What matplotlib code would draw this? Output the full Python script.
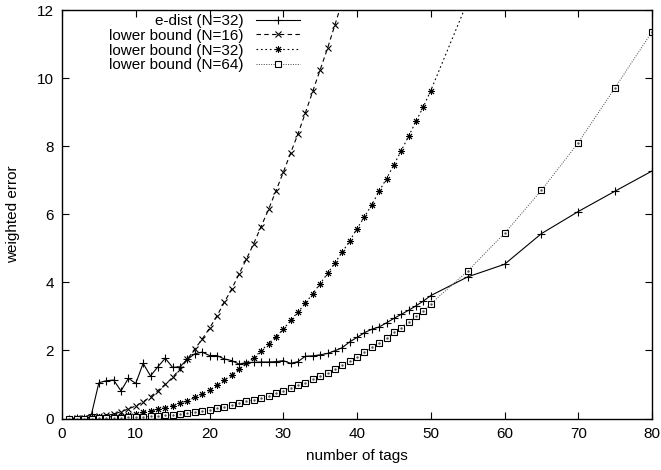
import matplotlib
matplotlib.use('Agg')
import matplotlib.pyplot as plt

plt.rcParams['font.family'] = ['Liberation Sans', 'DejaVu Sans']

#data
x_edist = list(range(1, 51)) + [55, 60, 65, 70, 75, 80]
y_edist = [0.0, 0.01, 0.02, 0.13, 1.05, 1.11, 1.13, 0.81, 1.18, 1.03,
           1.62, 1.25, 1.52, 1.77, 1.50, 1.52, 1.74, 1.90, 1.95, 1.85,
           1.85, 1.75, 1.70, 1.60, 1.64, 1.65, 1.66, 1.66, 1.67, 1.70,
           1.62, 1.67, 1.83, 1.84, 1.87, 1.91, 1.99, 2.08, 2.25, 2.38,
           2.52, 2.62, 2.69, 2.81, 2.94, 3.06, 3.18, 3.31, 3.45, 3.61,
           4.16, 4.53, 5.43, 6.08, 6.68, 7.27]

x_lb16 = list(range(1, 40))
y_lb16 = [0.0, 0.01, 0.02, 0.04, 0.06, 0.09, 0.13, 0.20, 0.28, 0.37,
          0.49, 0.64, 0.82, 1.00, 1.21, 1.46, 1.74, 2.04, 2.33, 2.65,
          3.01, 3.41, 3.80, 4.24, 4.68, 5.14, 5.64, 6.14, 6.68, 7.23,
          7.80, 8.36, 8.98, 9.61, 10.24, 10.87, 11.56, 12.25, 12.95]

x_lb32 = list(range(1, 51)) + [55]
y_lb32 = [0.0, 0.0, 0.01, 0.02, 0.03, 0.04, 0.06, 0.08, 0.11, 0.14,
          0.18, 0.22, 0.27, 0.32, 0.38, 0.45, 0.52, 0.62, 0.72, 0.84,
          0.97, 1.12, 1.28, 1.45, 1.62, 1.78, 1.99, 2.20, 2.40, 2.62,
          2.88, 3.13, 3.38, 3.67, 3.96, 4.26, 4.57, 4.89, 5.21, 5.58,
          5.92, 6.28, 6.67, 7.05, 7.45, 7.87, 8.29, 8.73, 9.16, 9.63,
          12.25]

x_lb64 = list(range(1, 51)) + [55, 60, 65, 70, 75, 80]
y_lb64 = [0.0, 0.0, 0.0, 0.0, 0.01, 0.01, 0.02, 0.02, 0.03, 0.04,
          0.05, 0.06, 0.08, 0.09, 0.11, 0.13, 0.16, 0.19, 0.22, 0.26,
          0.30, 0.34, 0.39, 0.45, 0.50, 0.54, 0.61, 0.67, 0.74, 0.82,
          0.89, 0.97, 1.05, 1.16, 1.26, 1.34, 1.46, 1.57, 1.70, 1.81,
          1.95, 2.09, 2.22, 2.37, 2.53, 2.67, 2.83, 3.01, 3.16, 3.37,
          4.33, 5.44, 6.70, 8.10, 9.72, 11.36]

labels = ['e-dist (N=32)', 'lower bound (N=16)', 'lower bound (N=32)', 'lower bound (N=64)']
x_ticks = [0, 10, 20, 30, 40, 50, 60, 70, 80]
y_ticks = [0, 2, 4, 6, 8, 10, 12]

fig = plt.figure(figsize=(6.61, 4.70), dpi=100)
ax = fig.add_axes([62/661, 1-418.5/470, 590/661, 408.5/470])

ax.plot(x_edist, y_edist, color='black', lw=0.8, marker='+', ms=5.5, mew=0.8, label=labels[0])
ax.plot(x_lb16, y_lb16, color='black', lw=0.8, ls=(0, (4, 3)), marker='x', ms=4.5, mew=0.8, label=labels[1])
ax.plot(x_lb32, y_lb32, color='black', lw=0.8, ls=(0, (1.5, 2.5)), marker=(8, 2, 0), ms=5, mew=0.7, label=labels[2])
ax.plot(x_lb64, y_lb64, color='#444444', lw=0.7, ls=(0, (1, 1.5)), marker='s', ms=5, mew=0.8,
        mfc='white', mec='black', label=labels[3])
ax.plot(x_lb64, y_lb64, ls='none', marker='.', ms=1.5, color='#555555')

ax.set_xlim(0, 80)
ax.set_ylim(0, 12)
ax.set_xticks(x_ticks)
ax.set_yticks(y_ticks)
ax.tick_params(direction='in', length=5, width=0.8, top=True, right=True, labelsize=11)
ax.tick_params(axis='x', pad=6)
ax.tick_params(axis='y', pad=6)
for s in ax.spines.values():
    s.set_linewidth(1.0)
ax.set_xlabel('number of tags', fontsize=11, labelpad=6)
ax.set_ylabel('weighted error', fontsize=11, labelpad=12)

leg = ax.legend(loc='upper right', bbox_to_anchor=(300/661, 1-14/470), bbox_transform=fig.transFigure,
                markerfirst=False, frameon=False, fontsize=11, handlelength=2.9, handletextpad=0.8,
                labelspacing=0.05, borderpad=0, borderaxespad=0, numpoints=1)

fig.savefig('out.png', dpi=100)
